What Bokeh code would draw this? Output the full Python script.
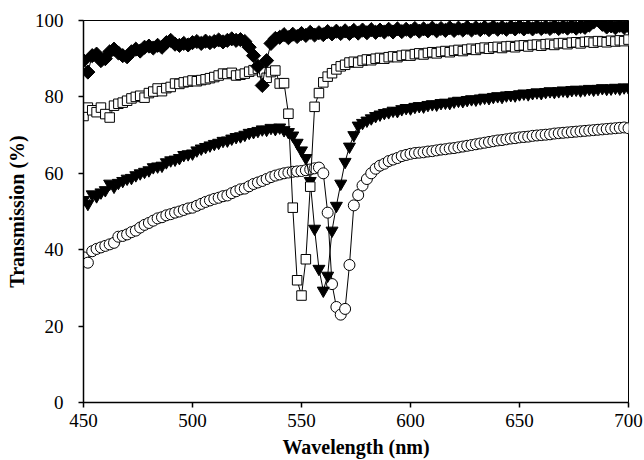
from bokeh.plotting import figure
from bokeh.models import Range1d, FixedTicker
from bokeh.embed import file_html
from bokeh.resources import INLINE
import math

# Wavelength sampling (nm), shared by all four spectra
wavelength = list(range(450, 701, 2))

# Transmission (%) for each sample
diamond_T = [
    89.5, 86.5, 90.8, 91.2, 89.5, 90.0, 91.8, 92.5, 91.5, 90.8,
    90.5, 91.8, 92.5, 92.0, 93.0, 93.3, 92.8, 93.5, 93.0, 94.2,
    94.8, 93.8, 93.5, 94.0, 93.6, 94.2, 94.5, 94.0, 94.6, 94.2,
    94.5, 94.9, 94.4, 94.8, 95.2, 94.8, 95.0, 94.5, 93.0, 90.8,
    88.0, 83.0, 89.5, 94.0, 95.3, 95.6, 96.3, 95.5, 96.4, 95.8,
    96.6, 96.1, 96.9, 96.2, 96.8, 96.3, 97.1, 96.5, 97.2, 96.6,
    97.3, 96.6, 97.4, 96.7, 97.5, 96.8, 97.6, 96.9, 97.5, 97.0,
    97.7, 97.0, 97.8, 97.1, 97.7, 97.2, 97.9, 97.2, 97.8, 97.3,
    98.0, 97.3, 97.9, 97.4, 98.1, 97.4, 98.0, 97.5, 98.2, 97.5,
    98.1, 97.6, 98.2, 97.6, 98.3, 97.7, 98.2, 97.7, 98.3, 97.8,
    98.4, 97.8, 98.3, 97.8, 98.4, 97.9, 98.3, 97.9, 98.5, 97.9,
    98.4, 98.0, 98.5, 98.0, 98.4, 98.2, 98.8, 99.6, 100.2, 99.0,
    98.3, 98.6, 98.1, 98.7, 98.2, 98.6,
]

square_T = [
    75.0, 77.2, 76.5, 76.0, 77.2, 75.5, 74.6, 77.7, 78.2, 78.5,
    79.0, 79.6, 80.0, 80.3, 79.8, 81.0, 81.4, 82.2, 81.5, 82.3,
    82.6, 83.5, 83.4, 83.8, 84.0, 84.3, 84.1, 84.4, 84.6, 84.9,
    85.2, 85.6, 86.1, 86.0, 86.3, 85.6, 85.8, 86.1, 86.6, 87.0,
    87.4, 86.5, 85.0, 86.5, 86.9, 83.5, 83.6, 75.6, 51.0, 32.0,
    28.0, 37.5, 56.5, 77.4, 81.0, 83.8, 85.3, 86.2, 87.2, 88.0,
    88.4, 89.0, 89.2, 89.0, 89.5, 89.8, 89.6, 90.0, 90.2, 90.0,
    90.4, 90.6, 90.4, 90.8, 91.0, 90.8, 91.2, 91.4, 91.1, 91.5,
    91.7, 91.4, 91.8, 92.0, 91.7, 92.1, 92.3, 92.0, 92.4, 92.6,
    92.3, 92.7, 92.9, 92.6, 93.0, 93.1, 92.8, 93.2, 93.3, 93.0,
    93.4, 93.5, 93.2, 93.6, 93.7, 93.4, 93.8, 93.9, 93.6, 94.0,
    94.1, 93.8, 94.2, 94.3, 94.0, 94.4, 94.5, 94.2, 94.6, 94.5,
    94.3, 94.7, 94.5, 94.8, 94.6, 95.0,
]

triangle_T = [
    53.0, 52.0, 54.5, 54.0, 55.0, 55.6, 57.3, 56.5, 57.5, 58.0,
    58.6, 58.8, 59.5, 60.0, 60.4, 60.8, 61.6, 61.8, 62.0, 62.9,
    63.4, 63.6, 64.0, 64.8, 65.0, 65.2, 66.0, 66.5, 66.9, 67.3,
    67.7, 68.0, 68.5, 68.6, 69.1, 69.5, 69.7, 70.1, 70.6, 70.8,
    71.1, 71.5, 71.4, 71.9, 71.6, 72.0, 71.3, 70.8, 69.9, 68.0,
    66.0, 64.0, 58.0, 45.5, 35.0, 29.3, 33.2, 45.0, 51.5, 57.3,
    63.0, 67.0, 70.0, 72.5, 73.2, 73.8, 74.4, 75.0, 75.4, 75.8,
    76.0, 76.4, 76.3, 76.8, 77.1, 77.0, 77.4, 77.6, 77.5, 77.9,
    78.1, 78.0, 78.4, 78.5, 78.4, 78.8, 79.0, 78.9, 79.2, 79.4,
    79.3, 79.6, 79.8, 79.7, 80.0, 80.2, 80.0, 80.4, 80.5, 80.4,
    80.7, 80.9, 80.7, 81.0, 81.2, 81.0, 81.3, 81.5, 81.3, 81.5,
    81.7, 81.5, 81.8, 81.9, 81.7, 81.9, 82.1, 81.9, 82.1, 82.3,
    82.1, 82.2, 82.4, 82.2, 82.5, 82.4,
]

circle_T = [
    38.0, 36.6, 39.6, 40.2, 40.6, 41.0, 41.4, 41.8, 43.4, 43.6,
    44.0, 44.6, 45.0, 45.8, 46.5, 47.0, 47.6, 48.2, 48.5, 49.0,
    49.3, 49.7, 50.0, 50.4, 50.8, 51.0, 51.5, 52.0, 52.5, 52.9,
    53.3, 53.6, 54.0, 54.2, 54.8, 55.3, 55.8, 56.0, 56.6, 57.2,
    57.6, 58.0, 58.5, 59.0, 59.4, 59.7, 60.0, 60.2, 60.4, 60.5,
    60.6, 60.8, 61.0, 61.3, 61.5, 60.0, 49.7, 31.0, 25.0, 23.0,
    24.5, 36.0, 51.6, 54.3, 56.8, 58.5, 60.0, 61.2, 62.0, 62.5,
    63.2, 63.6, 64.0, 64.5, 64.8, 65.1, 65.3, 65.4, 65.5, 65.7,
    65.8, 66.0, 66.2, 66.3, 66.5, 66.6, 66.8, 67.0, 67.2, 67.4,
    67.6, 67.8, 68.0, 68.2, 68.4, 68.6, 68.7, 68.9, 69.1, 69.2,
    69.4, 69.5, 69.6, 69.8, 69.9, 70.0, 70.1, 70.2, 70.4, 70.5,
    70.6, 70.7, 70.8, 70.9, 71.0, 71.1, 71.2, 71.3, 71.4, 71.5,
    71.6, 71.7, 71.8, 71.9, 72.0, 71.8,
]

SERIF = "Liberation Serif"

p = figure(
    width=644, height=460,
    x_range=Range1d(450, 700), y_range=Range1d(0, 100),
    output_backend="svg", toolbar_location=None,
    min_border_left=83, min_border_right=16,
    min_border_top=20, min_border_bottom=58,
    background_fill_color="white", border_fill_color="white",
)
p.outline_line_color = "black"
p.outline_line_width = 1
p.xgrid.visible = False
p.ygrid.visible = False

p.xaxis.ticker = FixedTicker(ticks=[450, 500, 550, 600, 650, 700])
p.yaxis.ticker = FixedTicker(ticks=[0, 20, 40, 60, 80, 100])
for ax in (p.xaxis, p.yaxis):
    ax.axis_line_color = "black"
    ax.axis_line_width = 1.5
    ax.major_tick_line_color = "black"
    ax.major_tick_line_width = 1.5
    ax.major_tick_out = 5
    ax.major_tick_in = 0
    ax.minor_tick_line_color = None
    ax.major_label_text_font = SERIF
    ax.major_label_text_font_size = "19px"
    ax.major_label_text_color = "black"
    ax.axis_label_text_font = SERIF
    ax.axis_label_text_font_style = "bold"
    ax.axis_label_text_font_size = "20px"
    ax.axis_label_text_color = "black"
p.xaxis.axis_label = "Wavelength (nm)"
p.yaxis.axis_label = "Transmission (%)"
p.xaxis.major_label_standoff = 6
p.yaxis.major_label_standoff = 15
p.xaxis.axis_label_standoff = 6
p.yaxis.axis_label_standoff = 4

# open circles
p.line(wavelength, circle_T, line_color="black", line_width=1)
p.scatter(wavelength, circle_T, marker="circle", size=11,
          fill_color="white", line_color="black", line_width=1)

# filled inverted triangles
p.line(wavelength, triangle_T, line_color="black", line_width=1)
p.scatter(wavelength, triangle_T, marker="inverted_triangle", size=12,
          fill_color="black", line_color="black", line_width=1)

# open squares
p.line(wavelength, square_T, line_color="black", line_width=1)
p.scatter(wavelength, square_T, marker="square", size=9.5,
          fill_color="white", line_color="black", line_width=1)

# filled diamonds
p.line(wavelength, diamond_T, line_color="black", line_width=1)
p.scatter(wavelength, diamond_T, marker="square", size=10, angle=math.pi / 4,
          fill_color="black", line_color="black", line_width=1)

open("out.html", "w").write(file_html(p, INLINE))
